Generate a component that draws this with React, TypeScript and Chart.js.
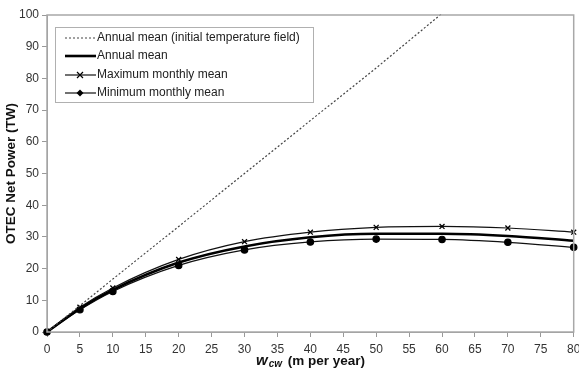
import React, { useEffect, useRef } from "react";
import { Chart, registerables } from "chart.js";

Chart.register(...registerables);

const xInitial = [0, 5, 10, 20, 30, 40, 50, 60];
const initialField = [0, 8.3, 16.7, 33.3, 50, 66.7, 83.3, 100.5];
const xValues = [0, 5, 10, 20, 30, 40, 50, 60, 70, 80];
const annualMean = [0, 7.4, 13.3, 21.9, 27.0, 29.9, 31.0, 31.0, 30.3, 28.8];
const maxMonthly = [0, 7.8, 13.9, 22.9, 28.5, 31.5, 33.0, 33.3, 32.8, 31.5];
const minMonthly = [0, 7.0, 12.8, 21.0, 25.9, 28.4, 29.3, 29.2, 28.3, 26.7];
const labels = [
  "Annual mean (initial temperature field)",
  "Annual mean",
  "Maximum monthly mean",
  "Minimum monthly mean",
];

const FONT = "'Liberation Sans', Arial, sans-serif";

const pts = (xs: number[], ys: number[]) => xs.map((x, i) => ({ x, y: ys[i] }));

const framePlugin = {
  id: "frame",
  afterDatasetsDraw(chart: any) {
    const { ctx, chartArea: a } = chart;
    ctx.save();
    ctx.strokeStyle = "#a8a8a8";
    ctx.lineWidth = 1.5;
    ctx.strokeRect(a.left, a.top, a.right - a.left, a.bottom - a.top);
    ctx.restore();
  },
  afterDraw(chart: any) {
    const { ctx } = chart;
    ctx.save();
    // legend
    const lx = 55, ly = 27, lw = 258, lh = 75;
    ctx.fillStyle = "#fff";
    ctx.fillRect(lx, ly, lw, lh);
    ctx.strokeStyle = "#b0b0b0";
    ctx.lineWidth = 1;
    ctx.strokeRect(lx + 0.5, ly + 0.5, lw, lh);
    ctx.font = `12px ${FONT}`;
    ctx.textBaseline = "middle";
    const rowY = [38, 56, 75, 93];
    chart.data.datasets.forEach((ds: any, i: number) => {
      const y = rowY[i];
      ctx.strokeStyle = ds.borderColor;
      ctx.lineWidth = ds.borderWidth;
      ctx.setLineDash(ds.borderDash || []);
      ctx.beginPath();
      ctx.moveTo(65, y);
      ctx.lineTo(96, y);
      ctx.stroke();
      ctx.setLineDash([]);
      if (ds.pointRadius > 0) {
        ctx.fillStyle = "#000";
        ctx.strokeStyle = "#000";
        ctx.lineWidth = 1.2;
        if (ds.pointStyle === "crossRot") {
          const r = 3;
          ctx.beginPath();
          ctx.moveTo(80 - r, y - r); ctx.lineTo(80 + r, y + r);
          ctx.moveTo(80 - r, y + r); ctx.lineTo(80 + r, y - r);
          ctx.stroke();
        } else {
          ctx.beginPath();
          ctx.moveTo(80, y - 3.5); ctx.lineTo(83.5, y); ctx.lineTo(80, y + 3.5); ctx.lineTo(76.5, y);
          ctx.closePath();
          ctx.fill();
        }
      }
      ctx.fillStyle = "#222";
      ctx.fillText(ds.label, 97, y);
    });
    // x title
    const ty = 365;
    ctx.fillStyle = "#111";
    ctx.textBaseline = "alphabetic";
    const p1 = "w";
    const p2 = "cw";
    const p3 = " (m per year)";
    let x = 256;
    ctx.font = `italic bold 15px ${FONT}`;
    ctx.fillText(p1, x, ty);
    x += ctx.measureText(p1).width + 1;
    ctx.font = `italic bold 10px ${FONT}`;
    ctx.fillText(p2, x, ty + 2);
    x += ctx.measureText(p2).width + 2;
    ctx.font = `bold 13.5px ${FONT}`;
    ctx.fillText(p3, x, ty);
    ctx.restore();
  },
};

export default function App() {
  const ref = useRef<HTMLCanvasElement | null>(null);
  useEffect(() => {
    document.body.style.margin = "0";
    const chart = new Chart(ref.current!, {
      type: "line",
      data: {
        datasets: [
          {
            label: labels[0],
            data: pts(xInitial, initialField),
            borderColor: "#444",
            borderWidth: 1.2,
            borderDash: [2, 2],
            pointRadius: 0,
            tension: 0,
          },
          {
            label: labels[1],
            data: pts(xValues, annualMean),
            borderColor: "#000",
            borderWidth: 2.6,
            pointRadius: 0,
            tension: 0.4,
            cubicInterpolationMode: "monotone",
          },
          {
            label: labels[2],
            data: pts(xValues, maxMonthly),
            borderColor: "#111",
            borderWidth: 1.2,
            pointStyle: "crossRot",
            pointRadius: 3.5,
            pointBorderWidth: 1.3,
            pointBorderColor: "#000",
            cubicInterpolationMode: "monotone",
          },
          {
            label: labels[3],
            data: pts(xValues, minMonthly),
            borderColor: "#111",
            borderWidth: 1.2,
            pointStyle: "circle",
            pointRadius: 3.2,
            pointBackgroundColor: "#000",
            pointBorderColor: "#000",
            cubicInterpolationMode: "monotone",
          },
        ],
      } as any,
      options: {
        animation: false,
        responsive: false,
        maintainAspectRatio: false,
        clip: false as any,
        layout: { padding: { top: 15, right: 3, left: 0, bottom: 0 } },
        plugins: { legend: { display: false }, tooltip: { enabled: false } },
        scales: {
          x: {
            type: "linear",
            min: 0,
            max: 80,
            ticks: { stepSize: 5, color: "#333", font: { family: FONT, size: 12 }, padding: 5, maxRotation: 0 },
            grid: { drawOnChartArea: false, tickLength: 5, color: "#999" },
            border: { color: "#999" },
            afterFit: (s: any) => { s.height = 39; s.paddingRight = 0; s.paddingLeft = 0; },
          },
          y: {
            min: 0,
            max: 100,
            ticks: { stepSize: 10, color: "#333", font: { family: FONT, size: 12 }, padding: 3 },
            grid: { drawOnChartArea: false, tickLength: 5, color: "#999" },
            border: { color: "#999" },
            title: {
              display: true,
              text: "OTEC Net Power (TW)",
              color: "#111",
              font: { family: FONT, size: 13.5, weight: "bold" },
              padding: { top: 3, bottom: 1 },
            },
            afterFit: (s: any) => { s.width = 47; s.paddingTop = 0; s.paddingBottom = 0; },
          },
        },
      },
      plugins: [framePlugin],
    });
    return () => chart.destroy();
  }, []);
  return (
    <div style={{ width: 579, height: 371 }}>
      <canvas ref={ref} width={579} height={371} style={{ display: "block" }} />
    </div>
  );
}
